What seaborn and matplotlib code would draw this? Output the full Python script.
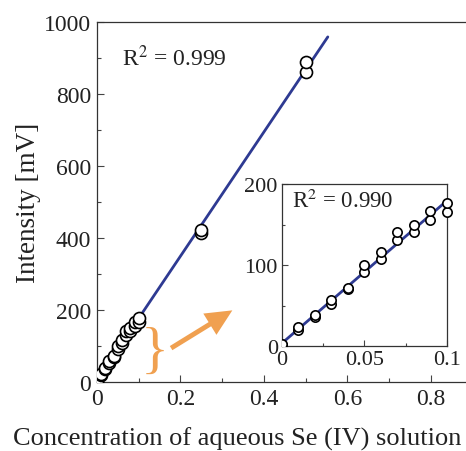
import numpy as np
import pandas as pd
import matplotlib.pyplot as plt
import seaborn as sns

# concentration (two replicates per level) and measured intensity [mV]
conc_low = [0.0, 0.0, 0.01, 0.01, 0.02, 0.02, 0.03, 0.03, 0.04, 0.04, 0.05, 0.05,
            0.06, 0.06, 0.07, 0.07, 0.08, 0.08, 0.09, 0.09, 0.1, 0.1]
intens_low = [1, 2, 20, 23, 36, 38, 52, 57, 70, 72, 91, 100,
              107, 116, 131, 141, 141, 149, 156, 167, 166, 177]
conc_high = [0.25, 0.25, 0.5, 0.5]
intens_high = [414, 422, 860, 888]

df_low = pd.DataFrame({"conc": conc_low, "intensity": intens_low})
df_all = pd.DataFrame({"conc": conc_low + conc_high, "intensity": intens_low + intens_high})

sns.set_style("ticks")
plt.rcParams["font.family"] = ["Liberation Serif", "DejaVu Serif"]
plt.rcParams["mathtext.fontset"] = "stix"
plt.rcParams["xtick.direction"] = "in"
plt.rcParams["ytick.direction"] = "in"

line_col = "#2e3a92"
orange = "#f0a050"
txt = "#222222"

fig = plt.figure(figsize=(4.66, 4.52), dpi=100)
ax = fig.add_axes([0.208, 0.1527, 0.792, 0.7965])

# fitted lines
k, b = np.polyfit(df_all.conc, df_all.intensity, 1)
xf = np.array([0.0, 0.553])
ax.plot(xf, k * xf + b, color=line_col, lw=2, zorder=2)
sns.scatterplot(data=df_all, x="conc", y="intensity", ax=ax, marker="o", s=75,
                facecolor="white", edgecolor="black", linewidth=1.2, zorder=3)

ax.set_xlim(0, 0.884)
ax.set_ylim(0, 1000)
ax.set_xticks([0, 0.2, 0.4, 0.6, 0.8])
ax.set_xticklabels(["0", "0.2", "0.4", "0.6", "0.8"])
ax.set_xticks([0.1, 0.3, 0.5, 0.7], minor=True)
ax.set_yticks([0, 200, 400, 600, 800, 1000])
ax.set_yticks([100, 300, 500, 700, 900], minor=True)
ax.tick_params(which="major", length=5, width=0.8, labelsize=17, colors="#444", labelcolor=txt, pad=4)
ax.tick_params(which="minor", length=3, width=0.8, colors="#444")
ax.spines["right"].set_visible(False)
for s in ["left", "bottom", "top"]:
    ax.spines[s].set_linewidth(0.9)
    ax.spines[s].set_color("#333")
ax.set_xlabel("Concentration of aqueous Se (IV) solution", fontsize=19, color=txt)
ax.xaxis.set_label_coords(0.38, -0.125)
ax.set_ylabel("Intensity [mV]", fontsize=19.5, color=txt, labelpad=2)
ax.text(0.06, 880, r"R$^2$ = 0.999", fontsize=17, color=txt)

# brace + arrow pointing to inset
ax.text(0.139, 82, "}", fontsize=42, color=orange, ha="center", va="center",
        fontweight="light")
ax.annotate("", xy=(0.33, 203), xytext=(0.172, 90),
            arrowprops=dict(arrowstyle="simple,head_width=1.8,head_length=1.9,tail_width=0.35",
                            color=orange, lw=0))

# inset
axi = fig.add_axes([0.605, 0.2323, 0.354, 0.358])
ki, bi = np.polyfit(df_low.conc, df_low.intensity, 1)
xi = np.array([0.0, 0.1])
axi.plot(xi, ki * xi + bi, color=line_col, lw=2, zorder=2)
at_zero = df_low.conc == 0
sns.scatterplot(data=df_low[at_zero], x="conc", y="intensity", ax=axi, marker="o", s=45,
                facecolor="white", edgecolor="black", linewidth=1.2, zorder=3)
sns.scatterplot(data=df_low[~at_zero], x="conc", y="intensity", ax=axi, marker="o", s=45,
                facecolor="white", edgecolor="black", linewidth=1.2, zorder=3, clip_on=False)
axi.set_xlim(0, 0.1)
axi.set_ylim(0, 200)
axi.set_xticks([0, 0.05, 0.1])
axi.set_xticklabels(["0", "0.05", "0.1"])
axi.set_xticks([0.025, 0.075], minor=True)
axi.set_yticks([0, 100, 200])
axi.set_yticks([50, 150], minor=True)
axi.tick_params(which="major", length=4, width=0.8, labelsize=16, colors="#444", labelcolor=txt, pad=3)
axi.tick_params(which="minor", length=2.5, width=0.8, colors="#444")
for s in axi.spines.values():
    s.set_linewidth(0.9)
    s.set_color("#333")
axi.set_xlabel("")
axi.set_ylabel("")
axi.text(0.006, 172, r"R$^2$ = 0.990", fontsize=16.5, color=txt)

fig.savefig("out.png", dpi=100)
